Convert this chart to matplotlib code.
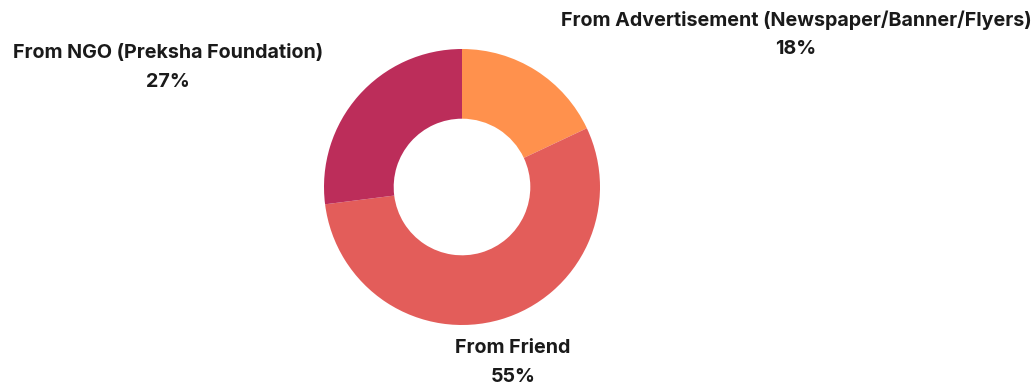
import matplotlib
matplotlib.use("Agg")
import matplotlib.pyplot as plt

categories = ["From Advertisement (Newspaper/Banner/Flyers)", "From Friend", "From NGO (Preksha Foundation)"]
values = [18, 55, 27]
colors = ["#FF914D", "#E35D5A", "#BC2D5A"]

W, H = 1034, 385
fig = plt.figure(figsize=(W / 100, H / 100), dpi=100)
fig.patch.set_facecolor("white")

cx, cy, r = 462, 187, 138
ax = fig.add_axes([(cx - r) / W, (H - cy - r) / H, 2 * r / W, 2 * r / H])
ax.pie(values, colors=colors, startangle=90, counterclock=False, radius=1,
       wedgeprops=dict(width=0.505, edgecolor="none"))
ax.set_xlim(-1, 1)
ax.set_ylim(-1, 1)
ax.set_aspect("equal")
ax.axis("off")

label_pos = [(796, 20), (513, 348), (168, 53)]
font = dict(family=["Inter", "DejaVu Sans"], weight="bold", size=14.2, color="#1a1a1a")
for cat, val, (x, y) in zip(categories, values, label_pos):
    fig.text(x / W, 1 - y / H, cat, ha="center", va="center", **font)
    fig.text(x / W, 1 - (y + 29) / H, f"{val}%", ha="center", va="center", **font)

fig.savefig("out.png", dpi=100, facecolor="white")
